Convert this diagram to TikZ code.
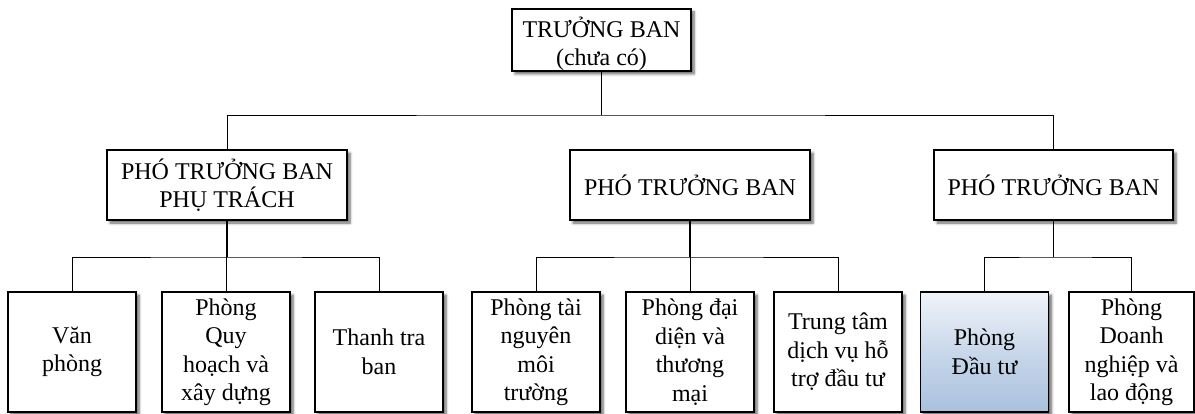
\documentclass[tikz,border=0pt]{standalone}
\usepackage{fontspec}
\setmainfont{Liberation Serif}
\usetikzlibrary{shadows.blur}
\definecolor{boxshade}{HTML}{A9C1DE}
\definecolor{boxlight}{HTML}{F0F3F9}
\begin{document}
\begin{tikzpicture}[x=1pt,y=-1pt,
  box/.style={draw=black, line width=1.2pt, fill=white, align=center,
    inner sep=0pt, font=\fontsize{24}{28.5}\selectfont,
    blur shadow={shadow xshift=3pt, shadow yshift=-3pt,
      shadow blur radius=2.5pt, shadow blur steps=6, shadow opacity=60}},
  lead/.style={box, minimum width=179pt, minimum height=62pt},
  deputy/.style={box, minimum width=240pt, minimum height=70pt},
  unit/.style={box, minimum width=128pt, minimum height=120pt},
  highlight/.style={top color=boxlight, bottom color=boxshade, middle color=boxshade!55!boxlight},
  link/.style={draw=black, line width=0.9pt},
  stem/.style={draw=black, line width=1.6pt}]
\useasboundingbox (0,0) rectangle (1195,414);

% head, its text set a little low in the frame
\node[lead] (top) at (601.5,40)
  {\parbox[c][62pt][c]{179pt}{\centering\vspace*{8pt}TRƯỞNG BAN\\(chưa có)}};

% deputies
\node[deputy] (pA) at (227,185) {PHÓ TRƯỞNG BAN\\PHỤ TRÁCH};
\node[deputy] (pB) at (690,185) {PHÓ TRƯỞNG BAN};
\node[deputy, minimum width=239pt] (pC) at (1053.5,185) {PHÓ TRƯỞNG BAN};

% departments
\node[unit] (a1) at (72,352) {Văn\\phòng};
\node[unit] (a2) at (226,352) {Phòng\\Quy\\hoạch và\\xây dựng};
\node[unit] (a3) at (379,352) {Thanh tra\\ban};
\node[unit] (b1) at (536,352) {Phòng tài\\nguyên\\môi\\trường};
\node[unit] (b2) at (690,352) {Phòng đại\\diện và\\thương\\mại};
\node[unit] (b3) at (838,352) {Trung tâm\\dịch vụ hỗ\\trợ đầu tư};
\node[unit, highlight] (c1) at (984.5,352) {Phòng\\Đầu tư};
\node[unit, minimum width=125pt] (c2) at (1131.5,352) {Phòng\\Doanh\\nghiệp và\\lao động};

% connectors from the head
\coordinate (j0) at (601.5,115);
\draw[stem] (top.south) -- (j0);
\draw[link] (pA.north) |- (j0) -| (pC.north);

% connectors to the departments
\coordinate (jA) at (227,257);
\coordinate (jB) at (690,257);
\coordinate (jC) at (1053.5,257);
\draw[stem] (pA.south) -- (jA);
\draw[stem] (pB.south) -- (jB);
\draw[stem] (pC.south) -- (jC);
\draw[link] (a1.north) |- (jA) -| (a3.north);
\draw[link] (a2.north) -- (a2.north |- jA);
\draw[link] (b1.north) |- (jB) -| (b3.north);
\draw[link] (b2.north) -- (b2.north |- jB);
\draw[link] (c1.north) |- (jC) -| (c2.north);
\end{tikzpicture}
\end{document}
